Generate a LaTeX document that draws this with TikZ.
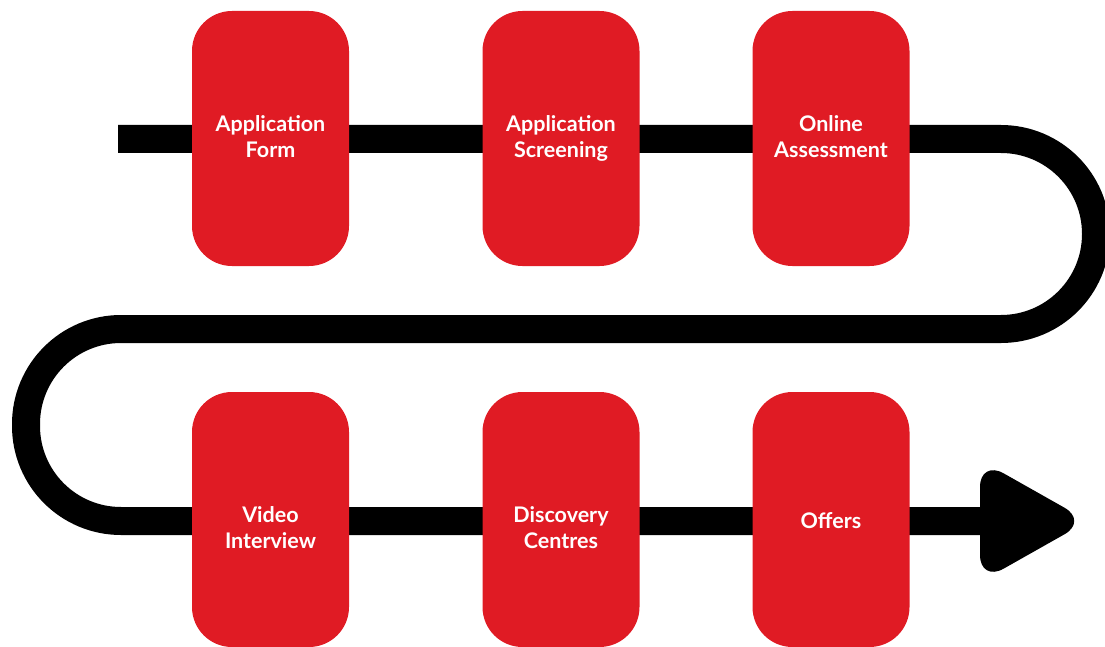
\documentclass[tikz,border=0pt]{standalone}
\usepackage{fontspec}
\setmainfont{Lato}
\definecolor{boxred}{RGB}{224,27,36}
\begin{document}
\begin{tikzpicture}[x=1pt,y=-1pt,
  stepbox/.style={fill=boxred,rounded corners=40pt,minimum width=157pt,minimum height=255pt,inner sep=0pt},
  lbl/.style={text=white,font=\fontsize{21.5}{26}\selectfont\bfseries,align=center,inner sep=0pt},
  track/.style={line width=28pt,line cap=butt,rounded corners=95pt}]
\useasboundingbox (0,0) rectangle (1105,647);
\coordinate (start) at (118,139);
\coordinate (c1) at (1096,139);
\coordinate (c2) at (1096,329);
\coordinate (c3) at (26,329);
\coordinate (c4) at (26,521);
\coordinate (finish) at (990,521);
\draw[track] (start) -- (c1) -- (c2) -- (c3) -- (c4) -- (finish);
\coordinate (h1) at (980,460);
\coordinate (h2) at (1088,521);
\coordinate (h3) at (980,582);
\fill[rounded corners=27pt] (h1) -- (h2) -- (h3) -- cycle;
\node[stepbox] (b1) at (270.5,138.5) {};
\node[stepbox] (b2) at (561,138.5) {};
\node[stepbox] (b3) at (831,138.5) {};
\node[stepbox] (b4) at (270.5,519.5) {};
\node[stepbox] (b5) at (561,519.5) {};
\node[stepbox] (b6) at (831,519.5) {};
\node[lbl,text depth=0pt] (t1) at ([yshift=2pt]b1.center) {Application\\Form};
\node[lbl,text depth=0pt] (t2) at ([yshift=2pt]b2.center) {Application\\Screening};
\node[lbl,text depth=0pt] (t3) at ([yshift=2pt]b3.center) {Online\\Assessment};
\node[lbl,text depth=0pt] (t4) at ([yshift=-8pt]b4.center) {Video\\Interview};
\node[lbl,text depth=0pt] (t5) at ([yshift=-8pt]b5.center) {Discovery\\Centres};
\node[lbl,text depth=0pt] (t6) at ([yshift=-1.5pt]b6.center) {Offers};
\end{tikzpicture}
\end{document}
